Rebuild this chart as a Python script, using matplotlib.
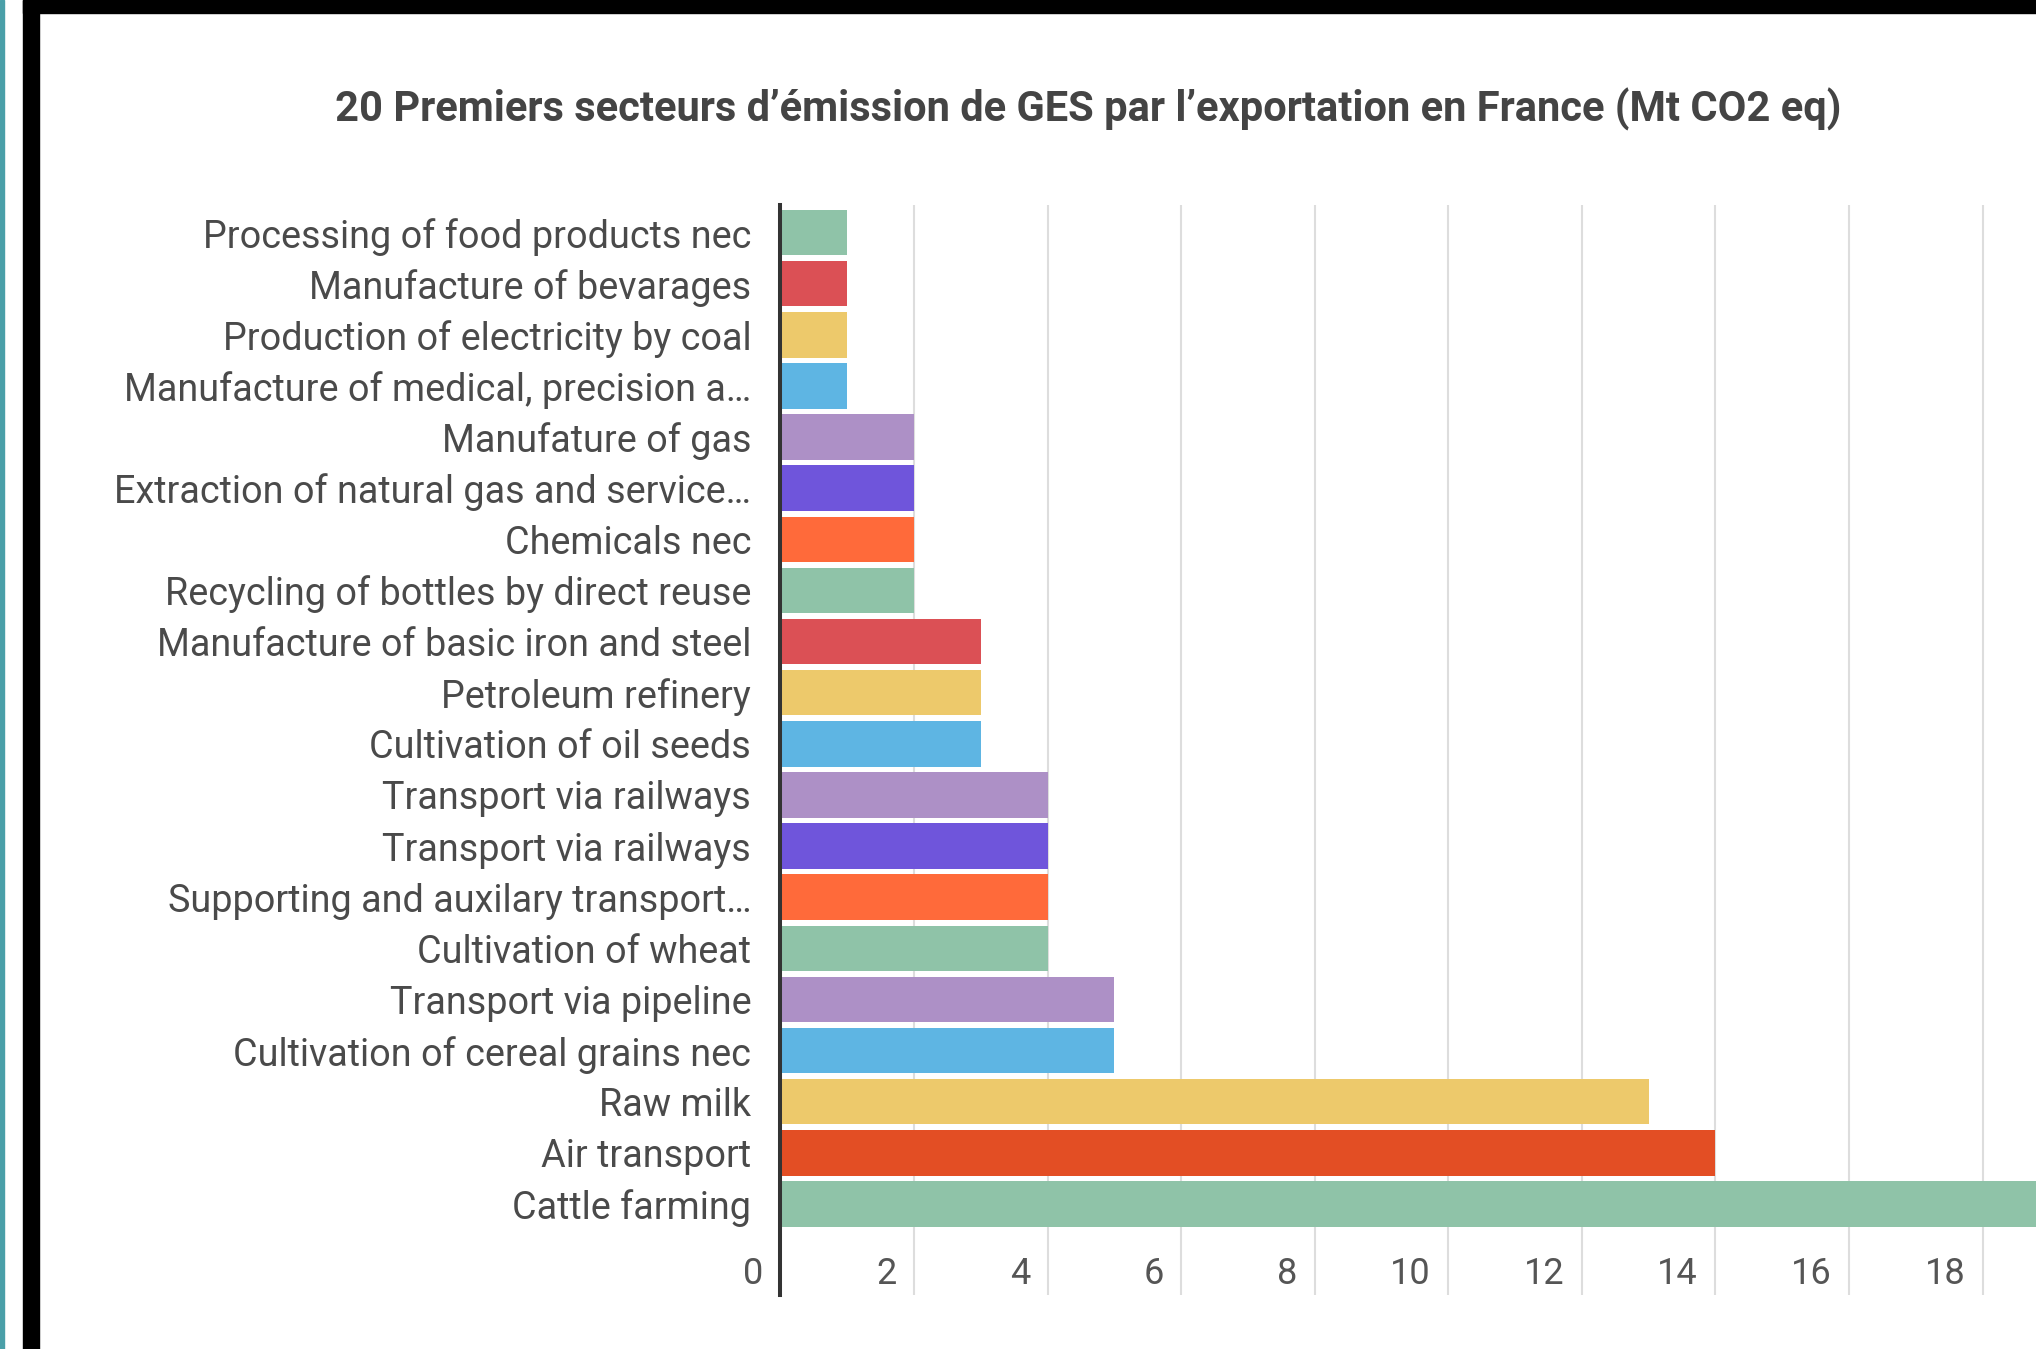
import matplotlib
matplotlib.use("Agg")
import matplotlib.pyplot as plt
from matplotlib.patches import Rectangle

categories = [
    "Processing of food products nec",
    "Manufacture of bevarages",
    "Production of electricity by coal",
    "Manufacture of medical, precision a\u2026",
    "Manufature of gas",
    "Extraction of natural gas and service\u2026",
    "Chemicals nec",
    "Recycling of bottles by direct reuse",
    "Manufacture of basic iron and steel",
    "Petroleum refinery",
    "Cultivation of oil seeds",
    "Transport via railways",
    "Transport via railways",
    "Supporting and auxilary transport\u2026",
    "Cultivation of wheat",
    "Transport via pipeline",
    "Cultivation of cereal grains nec",
    "Raw milk",
    "Air transport",
    "Cattle farming",
]
values = [1, 1, 1, 1, 2, 2, 2, 2, 3, 3, 3, 4, 4, 4, 4, 5, 5, 13, 14, 20]
colors = [
    "#8FC3A8", "#DB5055", "#EDC96B", "#5EB5E3", "#AD90C6", "#6F55DB", "#FF6A3A",
    "#8FC3A8", "#DB5055", "#EDC96B", "#5EB5E3", "#AD90C6", "#6F55DB", "#FF6A3A",
    "#8FC3A8", "#AD90C6", "#5EB5E3", "#EDC96B", "#E34E24", "#8FC3A8",
]
xticks = [0, 2, 4, 6, 8, 10, 12, 14, 16, 18]
title = "20 Premiers secteurs d\u2019\u00e9mission de GES par l\u2019exportation en France (Mt CO2 eq)"

plt.rcParams["font.family"] = ["Roboto", "DejaVu Sans"]

W, H = 2036, 1349
fig = plt.figure(figsize=(W / 100, H / 100), dpi=100)
fig.patch.set_facecolor("white")

# frame decorations
fig.add_artist(Rectangle((0, 0), 4 / W, 1, transform=fig.transFigure, color="#4A9FA8", zorder=5))
fig.add_artist(Rectangle((23 / W, 0), 16 / W, 1, transform=fig.transFigure, color="black", zorder=5))
fig.add_artist(Rectangle((23 / W, 1 - 13 / H), 1 - 23 / W, 13 / H, transform=fig.transFigure, color="black", zorder=5))

ax_left = 780.4 / W
ax_top = 205 / H
ax_bottom = 1295 / H
ax = fig.add_axes([ax_left, 1 - ax_bottom, 1 - ax_left, ax_bottom - ax_top])

ypos = list(range(len(categories)))
ax.barh(ypos, values, height=0.89, color=colors, zorder=2)

ax.set_xlim(0, 18.8)
ax.set_ylim(20.78, -0.54)
ax.set_yticks(ypos)
ax.set_yticklabels(categories, fontsize=27.2, color="#4a4a4a")
ax.tick_params(axis="y", length=0, pad=21)
ax.set_xticks(xticks)
ax.tick_params(axis="x", length=0, labelbottom=False)
ax.grid(axis="x", color="#dddddd", linewidth=1.5, zorder=0)
ax.grid(axis="y", visible=False)
ax.set_axisbelow(True)
for s in ["top", "right", "bottom"]:
    ax.spines[s].set_visible(False)
ax.spines["left"].set_color("#333333")
ax.spines["left"].set_linewidth(2.9)
ax.spines["left"].set_zorder(3)

for t in xticks:
    ax.annotate(str(t), xy=(t, 20.37), xytext=(-12.5, 0), textcoords="offset points",
                ha="right", va="center", fontsize=26, color="#555555")

fig.text(1088 / W, 1 - 109.5 / H, title, ha="center", va="center",
         fontsize=30, fontweight="bold", color="#444444")

fig.savefig("out.png", dpi=100)
